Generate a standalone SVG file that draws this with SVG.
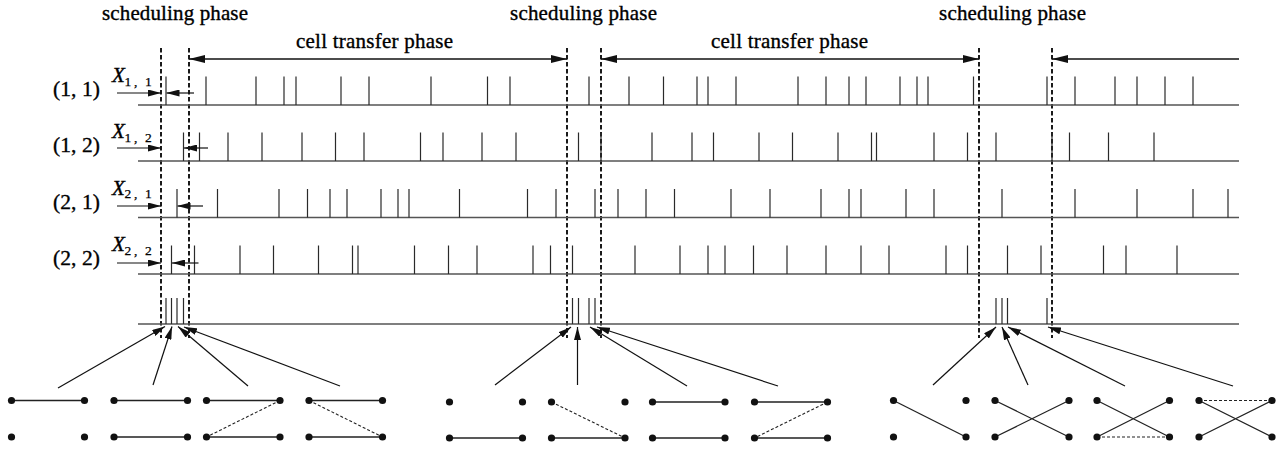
<svg xmlns="http://www.w3.org/2000/svg" width="1288" height="454" viewBox="0 0 1288 454">
  <style>
    text { font-family: "Liberation Serif", "Times New Roman", serif; fill: #000; stroke: #000; stroke-width: 0.35; }
    .lbl { font-size: 21px; }
    .row { font-size: 21.5px; }
    .xv { font-style: italic; font-size: 21px; }
    .sub { font-size: 13.5px; stroke-width: 0.25; }
    .base { stroke: #555; stroke-width: 1.6; fill: none; }
    .tick { stroke: #2a2a2a; stroke-width: 1.2; fill: none; }
    .phase { stroke: #1a1a1a; stroke-width: 2; stroke-dasharray: 4.5 2.5; fill: none; }
    .span { stroke: #111; stroke-width: 1.3; fill: none; marker-start: url(#bigHead); marker-end: url(#bigHead); }
    .ptr { stroke: #111; stroke-width: 1.2; fill: none; marker-end: url(#smallHead); }
    .edge { stroke: #222; stroke-width: 1.3; fill: none; }
    .edge.dash { stroke-width: 1.1; stroke-dasharray: 3 2; }
    .dot { fill: #111; }
  </style>
  <defs>
    <marker id="bigHead" viewBox="0 0 16 8" refX="16" refY="4" markerWidth="16" markerHeight="8" markerUnits="userSpaceOnUse" orient="auto-start-reverse">
      <path d="M0,0 L16,4 L0,8 Z" fill="#111"/>
    </marker>
    <marker id="smallHead" viewBox="0 0 13 7" refX="13" refY="3.5" markerWidth="13" markerHeight="7" markerUnits="userSpaceOnUse" orient="auto">
      <path d="M0,0 L13,3.5 L0,7 Z" fill="#111"/>
    </marker>
  </defs>

  <!-- phase captions -->
  <g id="captions">
    <text class="lbl" x="102" y="20" textLength="146" lengthAdjust="spacing">scheduling phase</text>
    <text class="lbl" x="510" y="20" textLength="147" lengthAdjust="spacing">scheduling phase</text>
    <text class="lbl" x="939" y="20" textLength="147" lengthAdjust="spacing">scheduling phase</text>
    <text class="lbl" x="296" y="48" textLength="157" lengthAdjust="spacing">cell transfer phase</text>
    <text class="lbl" x="711" y="48" textLength="157" lengthAdjust="spacing">cell transfer phase</text>
  </g>

  <!-- phase boundaries -->
  <g id="boundaries">
    <path class="phase" d="M161,48V338 M189,48V338 M567,48V338 M601,48V338 M979,48V338 M1052,48V338"/>
  </g>

  <!-- timeline (1,1) -->
  <g id="row-1-1">
    <text class="row" x="53" y="95.5" textLength="47" lengthAdjust="spacing">(1, 1)</text>
    <text class="xv" x="112" y="82">X</text>
    <text class="sub" x="124.5 134 145" y="85.5">1,1</text>
    <path class="base" d="M138,105H1239"/>
    <path class="tick" d="M166,76.5v28.5 M206,76.5v28.5 M256,76.5v28.5 M284,76.5v28.5 M296,76.5v28.5 M341,76.5v28.5 M369,76.5v28.5 M431,76.5v28.5 M487.5,76.5v28.5 M510,76.5v28.5 M589,76.5v28.5 M629,76.5v28.5 M663.5,76.5v28.5 M697,76.5v28.5 M708,76.5v28.5 M736,76.5v28.5 M798,76.5v28.5 M826,76.5v28.5 M849,76.5v28.5 M866,76.5v28.5 M900,76.5v28.5 M917,76.5v28.5 M928,76.5v28.5 M973.5,76.5v28.5 M1047,76.5v28.5 M1075,76.5v28.5 M1115,76.5v28.5 M1137,76.5v28.5 M1165,76.5v28.5 M1193,76.5v28.5"/>
  </g>

  <!-- timeline (1,2) -->
  <g id="row-1-2">
    <text class="row" x="53" y="151.5" textLength="47" lengthAdjust="spacing">(1, 2)</text>
    <text class="xv" x="112" y="138">X</text>
    <text class="sub" x="124.5 134 145" y="141.5">1,2</text>
    <path class="base" d="M138,161H1239"/>
    <path class="tick" d="M183.5,132.5v28.5 M199.5,132.5v28.5 M228,132.5v28.5 M262,132.5v28.5 M302,132.5v28.5 M335.5,132.5v28.5 M364,132.5v28.5 M420.5,132.5v28.5 M443,132.5v28.5 M482,132.5v28.5 M516,132.5v28.5 M578.5,132.5v28.5 M601,132.5v28.5 M652,132.5v28.5 M692,132.5v28.5 M713.5,132.5v28.5 M759,132.5v28.5 M792.5,132.5v28.5 M838,132.5v28.5 M871.5,132.5v28.5 M876.5,132.5v28.5 M934,132.5v28.5 M967.5,132.5v28.5 M996,132.5v28.5 M1052,132.5v28.5 M1069.5,132.5v28.5 M1108.5,132.5v28.5 M1154,132.5v28.5"/>
  </g>

  <!-- timeline (2,1) -->
  <g id="row-2-1">
    <text class="row" x="53" y="208.5" textLength="47" lengthAdjust="spacing">(2, 1)</text>
    <text class="xv" x="112" y="194.5">X</text>
    <text class="sub" x="124.5 134 145" y="198">2,1</text>
    <path class="base" d="M138,217.5H1239"/>
    <path class="tick" d="M177,189v28.5 M217.5,189v28.5 M279,189v28.5 M307.5,189v28.5 M330,189v28.5 M347,189v28.5 M381,189v28.5 M398,189v28.5 M409,189v28.5 M459.5,189v28.5 M527.5,189v28.5 M556,189v28.5 M595,189v28.5 M618,189v28.5 M646,189v28.5 M674.5,189v28.5 M731,189v28.5 M770,189v28.5 M821,189v28.5 M849,189v28.5 M861,189v28.5 M906,189v28.5 M934,189v28.5 M1002,189v28.5 M1075,189v28.5 M1137,189v28.5 M1193,189v28.5 M1228,189v28.5"/>
  </g>

  <!-- timeline (2,2) -->
  <g id="row-2-2">
    <text class="row" x="53" y="264.5" textLength="47" lengthAdjust="spacing">(2, 2)</text>
    <text class="xv" x="112" y="251">X</text>
    <text class="sub" x="124.5 134 145" y="254.5">2,2</text>
    <path class="base" d="M138,274H1239"/>
    <path class="tick" d="M171.5,245.5v28.5 M194.5,245.5v28.5 M240,245.5v28.5 M273.5,245.5v28.5 M318.5,245.5v28.5 M352.5,245.5v28.5 M358,245.5v28.5 M414.5,245.5v28.5 M448.5,245.5v28.5 M477,245.5v28.5 M533,245.5v28.5 M550.5,245.5v28.5 M572.5,245.5v28.5 M635,245.5v28.5 M680,245.5v28.5 M708,245.5v28.5 M725,245.5v28.5 M753.5,245.5v28.5 M787,245.5v28.5 M826,245.5v28.5 M861,245.5v28.5 M889,245.5v28.5 M946,245.5v28.5 M967.5,245.5v28.5 M1007.5,245.5v28.5 M1041,245.5v28.5 M1103.5,245.5v28.5 M1126,245.5v28.5 M1177,245.5v28.5"/>
  </g>

  <!-- schedule timeline -->
  <g id="row-schedule">
    <path class="base" d="M138,324H1239"/>
    <path class="tick" d="M166,298v26 M171.5,298v26 M177,298v26 M183.5,298v26 M572.5,298v26 M578.5,298v26 M589,298v26 M595,298v26 M996,298v26 M1002,298v26 M1007.5,298v26 M1047,298v26"/>
  </g>

  <!-- matchings -->
  <g id="match-1">
    <path class="edge" d="M11.5,400.5H84.5"/>
    <circle class="dot" cx="11.5" cy="400.5" r="3.6"/><circle class="dot" cx="84.5" cy="400.5" r="3.6"/>
    <circle class="dot" cx="11.5" cy="437" r="3.6"/><circle class="dot" cx="84.5" cy="437" r="3.6"/>
  </g>
  <g id="match-2">
    <path class="edge" d="M114,400.5H187.5 M114,437H187.5"/>
    <circle class="dot" cx="114" cy="400.5" r="3.6"/><circle class="dot" cx="187.5" cy="400.5" r="3.6"/>
    <circle class="dot" cx="114" cy="437" r="3.6"/><circle class="dot" cx="187.5" cy="437" r="3.6"/>
  </g>
  <g id="match-3">
    <path class="edge" d="M206.5,400.5H280 M206.5,437H280"/>
    <path class="edge dash" d="M280,400.5L206.5,437"/>
    <circle class="dot" cx="206.5" cy="400.5" r="3.6"/><circle class="dot" cx="280" cy="400.5" r="3.6"/>
    <circle class="dot" cx="206.5" cy="437" r="3.6"/><circle class="dot" cx="280" cy="437" r="3.6"/>
  </g>
  <g id="match-4">
    <path class="edge" d="M309,400.5H382.5 M309,437H382.5"/>
    <path class="edge dash" d="M309,400.5L382.5,437"/>
    <circle class="dot" cx="309" cy="400.5" r="3.6"/><circle class="dot" cx="382.5" cy="400.5" r="3.6"/>
    <circle class="dot" cx="309" cy="437" r="3.6"/><circle class="dot" cx="382.5" cy="437" r="3.6"/>
  </g>
  <g id="match-5">
    <path class="edge" d="M449.5,438H522.5"/>
    <circle class="dot" cx="449.5" cy="402" r="3.6"/><circle class="dot" cx="522.5" cy="402" r="3.6"/>
    <circle class="dot" cx="449.5" cy="438" r="3.6"/><circle class="dot" cx="522.5" cy="438" r="3.6"/>
  </g>
  <g id="match-6">
    <path class="edge" d="M551.5,438H625"/>
    <path class="edge dash" d="M551.5,402L625,438"/>
    <circle class="dot" cx="551.5" cy="402" r="3.6"/><circle class="dot" cx="625" cy="402" r="3.6"/>
    <circle class="dot" cx="551.5" cy="438" r="3.6"/><circle class="dot" cx="625" cy="438" r="3.6"/>
  </g>
  <g id="match-7">
    <path class="edge" d="M652.5,402H725 M652.5,438H725"/>
    <circle class="dot" cx="652.5" cy="402" r="3.6"/><circle class="dot" cx="725" cy="402" r="3.6"/>
    <circle class="dot" cx="652.5" cy="438" r="3.6"/><circle class="dot" cx="725" cy="438" r="3.6"/>
  </g>
  <g id="match-8">
    <path class="edge" d="M754.5,402H827.5 M754.5,438H827.5"/>
    <path class="edge dash" d="M827.5,402L754.5,438"/>
    <circle class="dot" cx="754.5" cy="402" r="3.6"/><circle class="dot" cx="827.5" cy="402" r="3.6"/>
    <circle class="dot" cx="754.5" cy="438" r="3.6"/><circle class="dot" cx="827.5" cy="438" r="3.6"/>
  </g>
  <g id="match-9">
    <path class="edge" d="M893.5,400.5L966,437"/>
    <circle class="dot" cx="893.5" cy="400.5" r="3.6"/><circle class="dot" cx="966" cy="400.5" r="3.6"/>
    <circle class="dot" cx="893.5" cy="437" r="3.6"/><circle class="dot" cx="966" cy="437" r="3.6"/>
  </g>
  <g id="match-10">
    <path class="edge" d="M995,400.5L1069,437 M995,437L1069,400.5"/>
    <circle class="dot" cx="995" cy="400.5" r="3.6"/><circle class="dot" cx="1069" cy="400.5" r="3.6"/>
    <circle class="dot" cx="995" cy="437" r="3.6"/><circle class="dot" cx="1069" cy="437" r="3.6"/>
  </g>
  <g id="match-11">
    <path class="edge" d="M1097,400.5L1169.5,437 M1097,437L1169.5,400.5"/>
    <path class="edge dash" d="M1097,437H1169.5"/>
    <circle class="dot" cx="1097" cy="400.5" r="3.6"/><circle class="dot" cx="1169.5" cy="400.5" r="3.6"/>
    <circle class="dot" cx="1097" cy="437" r="3.6"/><circle class="dot" cx="1169.5" cy="437" r="3.6"/>
  </g>
  <g id="match-12">
    <path class="edge" d="M1199,400.5L1272,437 M1199,437L1272,400.5"/>
    <path class="edge dash" d="M1199,400.5H1272"/>
    <circle class="dot" cx="1199" cy="400.5" r="3.6"/><circle class="dot" cx="1272" cy="400.5" r="3.6"/>
    <circle class="dot" cx="1199" cy="437" r="3.6"/><circle class="dot" cx="1272" cy="437" r="3.6"/>
  </g>

  <!-- connectors -->
  <g id="connectors">
    <!-- phase spans -->
    <path class="span" d="M189,59H567"/>
    <path class="span" d="M601,59H979"/>
    <path d="M1239,59H1052" fill="none" stroke="#111" stroke-width="1.3" marker-end="url(#bigHead)"/>
    <!-- request delays -->
    <path class="ptr" d="M117,93H161"/>
    <path class="ptr" d="M194,93H166.5"/>
    <path class="ptr" d="M117,148H161"/>
    <path class="ptr" d="M208,148H184"/>
    <path class="ptr" d="M117,206H161"/>
    <path class="ptr" d="M203,206H177.5"/>
    <path class="ptr" d="M117,263H161"/>
    <path class="ptr" d="M198.5,263H172"/>
    <!-- matchings to schedule instants -->
    <path class="ptr" d="M58,388L165,326.5"/>
    <path class="ptr" d="M153,385L172,326.5"/>
    <path class="ptr" d="M248,386L178,326.5"/>
    <path class="ptr" d="M340,386L184,327"/>
    <path class="ptr" d="M495,385L571,327"/>
    <path class="ptr" d="M577.5,385L577.5,327"/>
    <path class="ptr" d="M687,386L590,327"/>
    <path class="ptr" d="M778,386L597,327"/>
    <path class="ptr" d="M933,385L996,327"/>
    <path class="ptr" d="M1028,385L1002,327"/>
    <path class="ptr" d="M1125,386L1008,327"/>
    <path class="ptr" d="M1233,386L1048,327"/>
  </g>
</svg>
